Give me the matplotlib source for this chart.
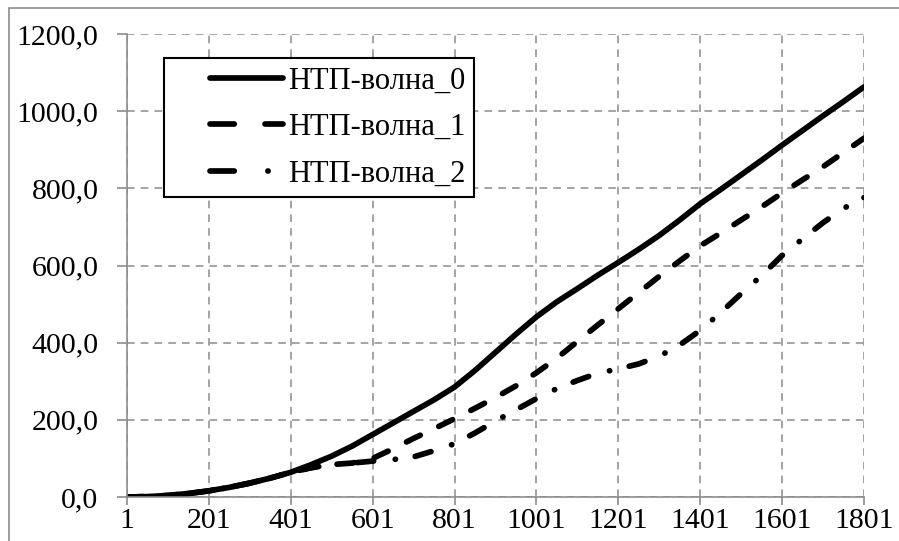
import matplotlib
matplotlib.use('Agg')
import matplotlib.pyplot as plt
from matplotlib.ticker import FuncFormatter
from matplotlib.legend_handler import HandlerLine2D
from matplotlib.lines import Line2D
from matplotlib.patches import Rectangle

plt.rcParams['font.family'] = ['Liberation Serif', 'DejaVu Serif']

steps = [1, 51, 101, 151, 201, 251, 301, 351, 401, 451, 501, 551, 601, 651, 701, 751, 801,
         851, 901, 951, 1001, 1051, 1101, 1151, 1201, 1251, 1301, 1351, 1401,
         1451, 1501, 1551, 1601, 1651, 1701, 1751, 1801]

wave0 = [0, 1, 4, 9, 16, 25, 36, 49, 64, 84, 106, 132, 162, 192, 222, 252, 285,
         328, 375, 422, 467, 506, 540, 575, 608, 642, 678, 718, 760,
         797, 835, 873, 912, 950, 988, 1025, 1063]
wave1 = [0, 1, 4, 9, 16, 25, 36, 49, 64, 76, 84, 88, 100, 125, 152, 177, 203,
         230, 258, 288, 322, 360, 403, 446, 488, 530, 572, 612, 651,
         684, 718, 752, 788, 822, 856, 893, 930]
wave2 = [0, 1, 4, 9, 16, 25, 36, 49, 64, 76, 84, 88, 93, 97, 104, 120, 138,
         166, 197, 226, 255, 281, 302, 321, 332, 345, 365, 394, 432,
         478, 527, 574, 626, 669, 711, 748, 776]

labels = ['НТП-волна_0', 'НТП-волна_1', 'НТП-волна_2']
xticks = [1, 201, 401, 601, 801, 1001, 1201, 1401, 1601, 1801]
yticks = [0, 200, 400, 600, 800, 1000, 1200]

fig = plt.figure(figsize=(8.99, 5.41), dpi=100)
ax = fig.add_axes([127/899, 1 - 497/541, (864-127)/899, (497-34)/541])

# outer chart border (cut at right / bottom)
fig.patches.append(Rectangle((9/899, -0.1), 1.2, 1.1 - 8/541, transform=fig.transFigure,
                             fill=False, edgecolor='#8c8c8c', linewidth=1.2))

lw = 4.1
ax.plot(steps, wave0, color='black', linewidth=lw, solid_capstyle='round',
        solid_joinstyle='round')
l1, = ax.plot(steps, wave1, color='black', linewidth=lw, dash_capstyle='round')
l1.set_dashes((2.7, 3.6))
l2, = ax.plot(steps, wave2, color='black', linewidth=lw, dash_capstyle='round')
l2.set_dashes((2.9, 3.8, 0.05, 3.5))

ax.set_xlim(1, 1801)
ax.set_ylim(0, 1200)
ax.set_xticks(xticks)
ax.set_yticks(yticks)
ax.yaxis.set_major_formatter(FuncFormatter(lambda v, p: f'{v:.1f}'.replace('.', ',')))
ax.tick_params(labelsize=21.5, color='#8c8c8c', width=1.2)
ax.tick_params(axis='y', length=7, pad=13.5)
ax.tick_params(axis='x', length=5.5, pad=2.5)
ax.grid(True, color='#8c8c8c', linestyle=(0, (5, 4)), linewidth=1.1)
for s in ['top', 'right']:
    ax.spines[s].set_visible(False)
for s in ['left', 'bottom']:
    ax.spines[s].set_color('#8c8c8c')
    ax.spines[s].set_linewidth(1.2)

# legend handles (Excel draws the legend samples with its own dash spacing)
h0 = Line2D([], [], color='black', linewidth=lw, solid_capstyle='round')
h1 = Line2D([], [], color='black', linewidth=lw, dash_capstyle='round')
h1.set_dashes((4.26, 5.4))
h2 = Line2D([], [], color='black', linewidth=lw, dash_capstyle='round')
h2.set_dashes((4.26, 5.9, 0.05, 20))

fs = 22
leg = ax.legend([h0, h1, h2], labels, loc='upper left',
                bbox_to_anchor=((164-127)/737, (497-58)/463),
                borderaxespad=0, fontsize=fs, frameon=True, fancybox=False,
                edgecolor='black', framealpha=1, handlelength=3.61, handletextpad=0.17,
                labelspacing=0.57, borderpad=0.28,
                handler_map={h: HandlerLine2D(xpad=1.22) for h in [h0, h1, h2]})
leg.get_frame().set_linewidth(1.5)

fig.savefig('out.png', dpi=100)
